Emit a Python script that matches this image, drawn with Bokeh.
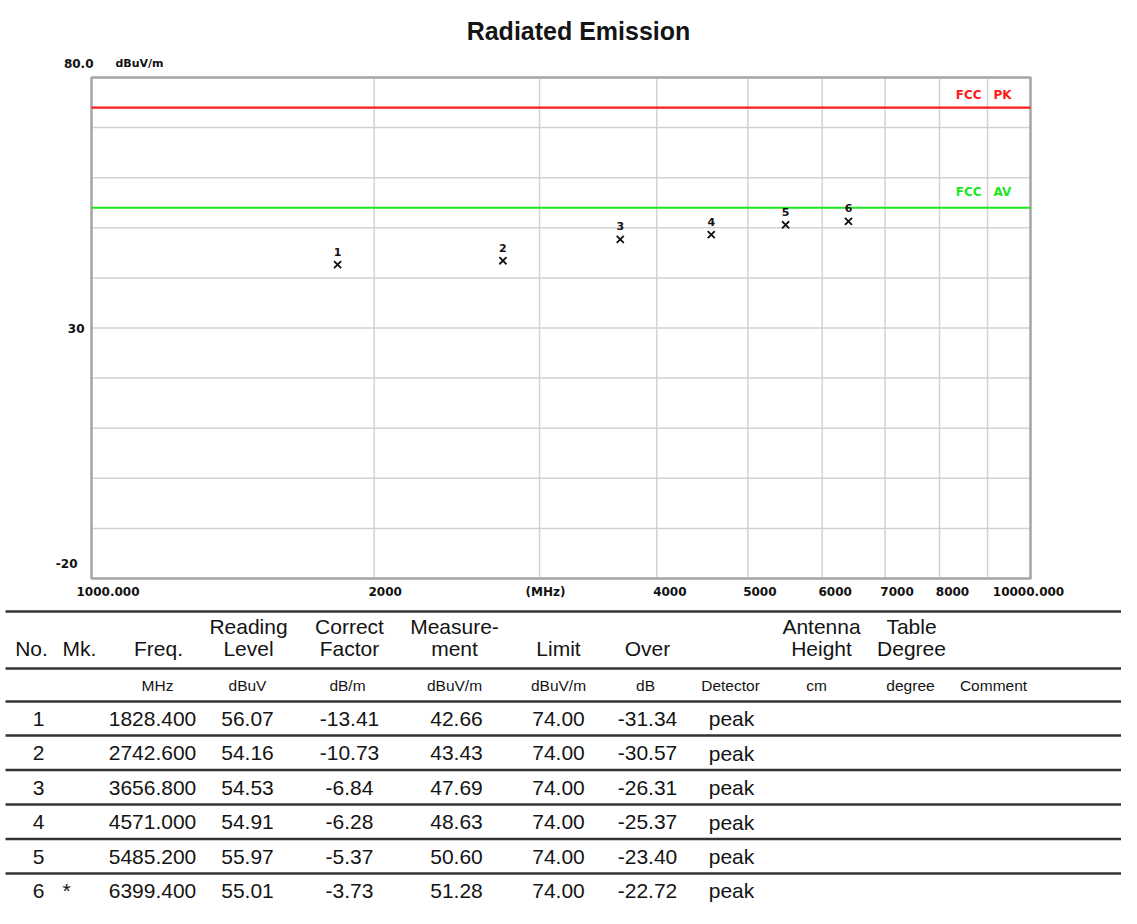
import math
from bokeh.plotting import figure
from bokeh.models import Range1d, LogScale, LinearScale, ColumnDataSource
from bokeh.core.properties import value
from bokeh.embed import file_html
from bokeh.resources import INLINE

# ---------------- data ----------------
title_text = "Radiated Emission"
y_unit = "dBuV/m"
x_min, x_max = 1000, 10000
y_min, y_max = -20, 80
x_tick_values = [1000, 2000, 3000, 4000, 5000, 6000, 7000, 8000, 10000]
x_tick_labels = ["1000.000", "2000", "(MHz)", "4000", "5000", "6000", "7000", "8000", "10000.000"]
x_grid_values = [2000, 3000, 4000, 5000, 6000, 7000, 8000, 9000]
y_grid_values = [-10, 0, 10, 20, 30, 40, 50, 60, 70]
y_tick_values = [80, 30, -20]
y_tick_labels = ["80.0", "30", "-20"]

limit_pk = 74.0
limit_av = 54.0
limit_pk_label = ["FCC", "PK"]
limit_av_label = ["FCC", "AV"]

marker_no = ["1", "2", "3", "4", "5", "6"]
marker_mk = ["", "", "", "", "", "*"]
freq_mhz = [1828.400, 2742.600, 3656.800, 4571.000, 5485.200, 6399.400]
reading_level = [56.07, 54.16, 54.53, 54.91, 55.97, 55.01]
correct_factor = [-13.41, -10.73, -6.84, -6.28, -5.37, -3.73]
measurement = [42.66, 43.43, 47.69, 48.63, 50.60, 51.28]
limit_value = [74.00, 74.00, 74.00, 74.00, 74.00, 74.00]
over = [-31.34, -30.57, -26.31, -25.37, -23.40, -22.72]
detector = ["peak", "peak", "peak", "peak", "peak", "peak"]

header_top = ["", "", "", "Reading", "Correct", "Measure-", "", "", "", "Antenna", "Table", ""]
header_bottom = ["No.", "Mk.", "Freq.", "Level", "Factor", "ment", "Limit", "Over", "", "Height", "Degree", ""]
units_row = ["", "", "MHz", "dBuV", "dB/m", "dBuV/m", "dBuV/m", "dB", "Detector", "cm", "degree", "Comment"]

# ---------------- layout (picture pixel coordinates) ----------------
W, H = 1121, 908
PX0, PX1 = 0, W
PY0, PY1 = 0, H
FL, FR, FT, FB = 91, 1030, 77, 578   # chart frame in picture pixels

decade_px = (FR - FL) / math.log10(x_max / x_min)
fx_start = x_min * 10 ** (-(FL - PX0) / decade_px)
fx_end = x_max * 10 ** ((PX1 - FR) / decade_px)
px_per_db = (FB - FT) / (y_max - y_min)
fy_bottom = y_min - (PY1 - FB) / px_per_db
fy_top = y_max + (FT - PY0) / px_per_db

SMALL_FONT = "DejaVu Sans"
TABLE_FONT = "Liberation Sans"
RED = "#ff1a1a"
GREEN = "#1ee61e"
INK = "#141414"

p = figure(width=W, height=H, x_range=Range1d(PX0, PX1), y_range=Range1d(PY1, PY0),
           output_backend="svg", toolbar_location=None,
           min_border_left=0, min_border_right=0, min_border_top=0, min_border_bottom=0)
p.axis.visible = False
p.grid.visible = False
p.outline_line_color = None
p.background_fill_color = "white"
p.border_fill_color = "white"
p.extra_x_ranges = {"fx": Range1d(fx_start, fx_end)}
p.extra_x_scales = {"fx": LogScale()}
p.extra_y_ranges = {"fy": Range1d(fy_bottom, fy_top)}
p.extra_y_scales = {"fy": LinearScale()}

C = dict(x_range_name="fx", y_range_name="fy")

# grid
p.segment(x0=x_grid_values, x1=x_grid_values,
          y0=[y_min] * len(x_grid_values), y1=[y_max] * len(x_grid_values),
          line_color="#d2d2d2", line_width=1.5, **C)
p.segment(x0=[x_min] * len(y_grid_values), x1=[x_max] * len(y_grid_values),
          y0=y_grid_values, y1=y_grid_values,
          line_color="#d2d2d2", line_width=1.5, **C)
# frame
p.quad(left=[x_min], right=[x_max], bottom=[y_min], top=[y_max],
       fill_color=None, line_color="#a4a4a4", line_width=2.5, **C)

# limit lines
p.segment(x0=[x_min], x1=[x_max], y0=[limit_pk], y1=[limit_pk], line_color=RED, line_width=2.2, **C)
p.segment(x0=[x_min], x1=[x_max], y0=[limit_av], y1=[limit_av], line_color=GREEN, line_width=2.2, **C)

lim_src = ColumnDataSource(dict(x=[9000, 9000, 9000, 9000],
                                y=[limit_pk, limit_pk, limit_av, limit_av],
                                t=[limit_pk_label[0], limit_pk_label[1], limit_av_label[0], limit_av_label[1]],
                                xo=[-6, 6, -6, 6], yo=[-13, -13, -16, -16],
                                al=["right", "left", "right", "left"],
                                c=[RED, RED, GREEN, GREEN]))
p.text("x", "y", text="t", source=lim_src, x_offset="xo", y_offset="yo", text_align="al",
       text_baseline="middle", text_color="c", text_font=value(SMALL_FONT),
       text_font_style="bold", text_font_size="12px", **C)

# markers
src = ColumnDataSource(dict(f=freq_mhz, m=measurement, n=marker_no))
p.scatter("f", "m", source=src, marker="x", size=10, line_width=1.8, line_color="#111111", **C)
p.text("f", "m", text="n", source=src, y_offset=-13, text_align="center",
       text_baseline="middle", text_font=value(SMALL_FONT), text_font_style="bold",
       text_font_size="11px", text_color="#111111", **C)

# title
p.text(x=[578], y=[30], text=[title_text], text_align="center", text_baseline="middle",
       text_font=value(TABLE_FONT), text_font_style="bold", text_font_size="25px",
       text_color=INK)

# y tick labels + unit
ysrc = ColumnDataSource(dict(x=[x_min] * len(y_tick_values), y=y_tick_values, t=y_tick_labels,
                             xo=[2, -7, -14], yo=[-14, 0, -15]))
p.text("x", "y", text="t", source=ysrc, x_offset="xo", y_offset="yo", text_align="right",
       text_baseline="middle", text_font=value(SMALL_FONT), text_font_style="bold",
       text_font_size="12px", text_color="#111111", **C)
p.text(x=[x_min], y=[y_max], text=[y_unit], x_offset=24, y_offset=-14, text_align="left",
       text_baseline="middle", text_font=value(SMALL_FONT), text_font_style="bold",
       text_font_size="11px", text_color="#111111", **C)

# x tick labels
xsrc = ColumnDataSource(dict(x=x_tick_values, y=[y_min] * len(x_tick_values), t=x_tick_labels,
                             xo=[16.5, 11, 6, 13, 12, 13, 12, 13, -2]))
p.text("x", "y", text="t", source=xsrc, x_offset="xo", y_offset=13, text_align="center",
       text_baseline="middle", text_font=value(SMALL_FONT), text_font_style="bold",
       text_font_size="12px", text_color="#111111", **C)

# ---------------- table ----------------
rule_y = [611, 668, 701, 735, 769.5, 804, 838.5, 873]
p.segment(x0=[5] * len(rule_y), x1=[PX1] * len(rule_y), y0=rule_y, y1=rule_y,
          line_color="#333333", line_width=2.5)

header_x = [31, 79, 158, 248, 349, 454, 558, 647, 730, 821, 911, 993]
units_x = [31, 79, 157, 247, 347, 454, 558, 645, 730, 816, 910, 993]


def put_texts(xs, ys, texts, size, color=INK):
    s = ColumnDataSource(dict(x=xs, y=ys, t=texts))
    p.text("x", "y", text="t", source=s, text_align="center", text_baseline="middle",
           text_font=value(TABLE_FONT), text_font_size=size, text_color=color)


put_texts(header_x, [626] * len(header_x), header_top, "21px")
put_texts(header_x, [648] * len(header_x), header_bottom, "21px")
put_texts(units_x, [684.5] * len(units_x), units_row, "15.5px")

row_y = [718, 752.5, 787, 821.5, 856, 890]
put_texts([38] * 6, row_y, marker_no, "21px")
put_texts([66] * 6, row_y, marker_mk, "21px")
put_texts([152] * 6, row_y, [f"{v:.3f}" for v in freq_mhz], "21px")
put_texts([247] * 6, row_y, [f"{v:.2f}" for v in reading_level], "21px")
put_texts([349] * 6, row_y, [f"{v:.2f}" for v in correct_factor], "21px")
put_texts([456] * 6, row_y, [f"{v:.2f}" for v in measurement], "21px")
put_texts([558] * 6, row_y, [f"{v:.2f}" for v in limit_value], "21px")
put_texts([647] * 6, row_y, [f"{v:.2f}" for v in over], "21px")
put_texts([731] * 6, row_y, detector, "21px")

open("out.html", "w").write(file_html(p, INLINE))
